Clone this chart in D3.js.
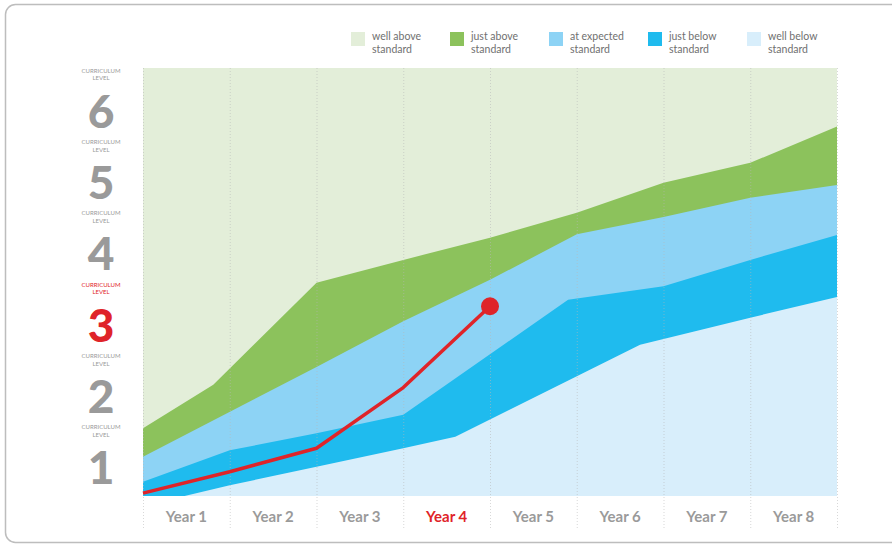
<!DOCTYPE html>
<html>
<head>
<meta charset="utf-8">
<script src="https://cdn.jsdelivr.net/npm/d3@7"></script>
<style>
    html, body { margin: 0; padding: 0; background: #fff; }
    svg { display: block; font-family: Lato, "Open Sans", sans-serif; }
</style>
</head>
<body>
<svg id="chart" width="892" height="546"></svg>
<script>
(function() {
"use strict";

// columns along the bottom
var years = ['Year 1', 'Year 2', 'Year 3', 'Year 4', 'Year 5', 'Year 6', 'Year 7', 'Year 8'];
var currentYear = 'Year 4';

// curriculum levels on the left
var levels = [1, 2, 3, 4, 5, 6];
var currentLevel = 3;

// legend, from the top band down to the bottom one
var legendKeys = ['wellAbove', 'justAbove', 'expected', 'justBelow', 'wellBelow'];
var legendLabels = [
    ['well above', 'standard'],
    ['just above', 'standard'],
    ['at expected', 'standard'],
    ['just below', 'standard'],
    ['well below', 'standard']
];

// band upper edges as [position along years (0..8), curriculum level]
var justAboveTop = [[0, 0.95], [0.81, 1.56], [2, 2.99], [3, 3.31], [4, 3.62], [5, 3.97], [6, 4.39], [7, 4.67], [8, 5.18]];
var expectedTop = [[0, 0.55], [2, 1.81], [3, 2.45], [4, 3.03], [5, 3.67], [6, 3.91], [7, 4.18], [8, 4.36]];
var justBelowTop = [[0, 0.2], [1, 0.64], [2, 0.88], [3, 1.14], [4.9, 2.75], [6, 2.94], [7, 3.31], [8, 3.66]];
var wellBelowTop = [[0, 0], [0.48, 0], [1, 0.15], [2, 0.41], [3, 0.67], [3.6, 0.83], [5.73, 2.12], [7, 2.5], [8, 2.79]];

// the pupil's progress
var student = [[0, 0.04], [1, 0.34], [2, 0.67], [3, 1.52], [4, 2.66]];

var colors = {
    wellAbove: '#e3eed9',
    justAbove: '#8cc25c',
    expected: '#8dd3f5',
    justBelow: '#1fbbee',
    wellBelow: '#d8eefb'
};
var grey = '#9a9a9a';
var red = '#df2429';

var svg = d3.select('#chart');

var plot = {left: 143, right: 837, top: 68, bottom: 496};

var x = d3.scaleLinear().domain([0, years.length]).range([plot.left, plot.right]);
var y = d3.scaleLinear().domain([0, d3.max(levels)]).range([plot.bottom, plot.top]);
var column = d3.scaleBand().domain(years).range([plot.left, plot.right]);

// card outline
svg.append('rect')
       .attr('x', 5.5)
       .attr('y', 4.5)
       .attr('width', 920)
       .attr('height', 538)
       .attr('rx', 10)
       .attr('fill', 'none')
       .attr('stroke', '#bdbdbd')
       .attr('stroke-width', 1.5);

// bands: top one is the background, the others are painted over it
svg.append('rect')
       .attr('x', x(0))
       .attr('y', y(d3.max(levels)))
       .attr('width', x(years.length) - x(0))
       .attr('height', y(0) - y(d3.max(levels)))
       .attr('fill', colors.wellAbove);

var area = d3.area()
                 .x(function(d) { return x(d[0]); })
                 .y0(y(0))
                 .y1(function(d) { return y(d[1]); });

var bands = [
    {key: 'justAbove', data: justAboveTop},
    {key: 'expected', data: expectedTop},
    {key: 'justBelow', data: justBelowTop},
    {key: 'wellBelow', data: wellBelowTop}
];

svg.append('g')
       .attr('class', 'bands')
   .selectAll('path')
   .data(bands)
   .join('path')
       .attr('d', function(d) { return area(d.data); })
       .attr('fill', function(d) { return colors[d.key]; });

// dotted column separators, running down through the labels
svg.append('g')
       .attr('class', 'grid')
   .selectAll('line')
   .data(d3.range(years.length + 1))
   .join('line')
       .attr('x1', function(d) { return x(d) + 0.5; })
       .attr('x2', function(d) { return x(d) + 0.5; })
       .attr('y1', y(d3.max(levels)))
       .attr('y2', plot.bottom + 34)
       .attr('stroke', '#b8b8b8')
       .attr('stroke-opacity', 0.55)
       .attr('stroke-dasharray', '1,2');

// year labels
svg.append('g')
       .attr('class', 'x-labels')
   .selectAll('text')
   .data(years)
   .join('text')
       .attr('x', function(d) { return column(d) + column.bandwidth() / 2; })
       .attr('y', plot.bottom + 26)
       .attr('text-anchor', 'middle')
       .attr('font-size', 15)
       .attr('font-weight', 700)
       .attr('fill', function(d) { return d === currentYear ? red : grey; })
       .text(function(d) { return d; });

// curriculum level labels
var levelLabel = svg.append('g')
                        .attr('class', 'y-labels')
                    .selectAll('g')
                    .data(levels)
                    .join('g')
                        .attr('transform', function(d) { return 'translate(101,' + y(d - 0.6) + ')'; })
                        .attr('fill', function(d) { return d === currentLevel ? red : grey; })
                        .attr('text-anchor', 'middle');

levelLabel.append('text')
              .attr('y', -38)
              .attr('font-size', 6)
              .text('CURRICULUM');

levelLabel.append('text')
              .attr('y', -30.5)
              .attr('font-size', 6)
              .text('LEVEL');

levelLabel.append('text')
              .attr('y', 17)
              .attr('font-size', 46)
              .attr('font-weight', 900)
              .text(function(d) { return d; });

// pupil line and current position
var line = d3.line()
                 .x(function(d) { return x(d[0]); })
                 .y(function(d) { return y(d[1]); });

svg.append('path')
       .datum(student)
       .attr('d', line)
       .attr('fill', 'none')
       .attr('stroke', red)
       .attr('stroke-width', 3.5)
       .attr('stroke-linejoin', 'round');

svg.append('circle')
       .datum(student[student.length - 1])
       .attr('cx', function(d) { return x(d[0]); })
       .attr('cy', function(d) { return y(d[1]); })
       .attr('r', 9)
       .attr('fill', red);

// legend
var legendX = d3.scalePoint().domain(legendKeys).range([351, 747]);

var legendItem = svg.append('g')
                        .attr('class', 'legend')
                    .selectAll('g')
                    .data(legendKeys)
                    .join('g')
                        .attr('transform', function(d) { return 'translate(' + legendX(d) + ',32)'; });

legendItem.append('rect')
              .attr('width', 14)
              .attr('height', 14)
              .attr('fill', function(d) { return colors[d]; });

legendItem.append('text')
              .attr('x', 21)
              .attr('y', 8)
              .attr('font-size', 10.5)
              .attr('fill', '#707070')
              .text(function(d, i) { return legendLabels[i][0]; });

legendItem.append('text')
              .attr('x', 21)
              .attr('y', 21)
              .attr('font-size', 10.5)
              .attr('fill', '#707070')
              .text(function(d, i) { return legendLabels[i][1]; });

}());
</script>
</body>
</html>
